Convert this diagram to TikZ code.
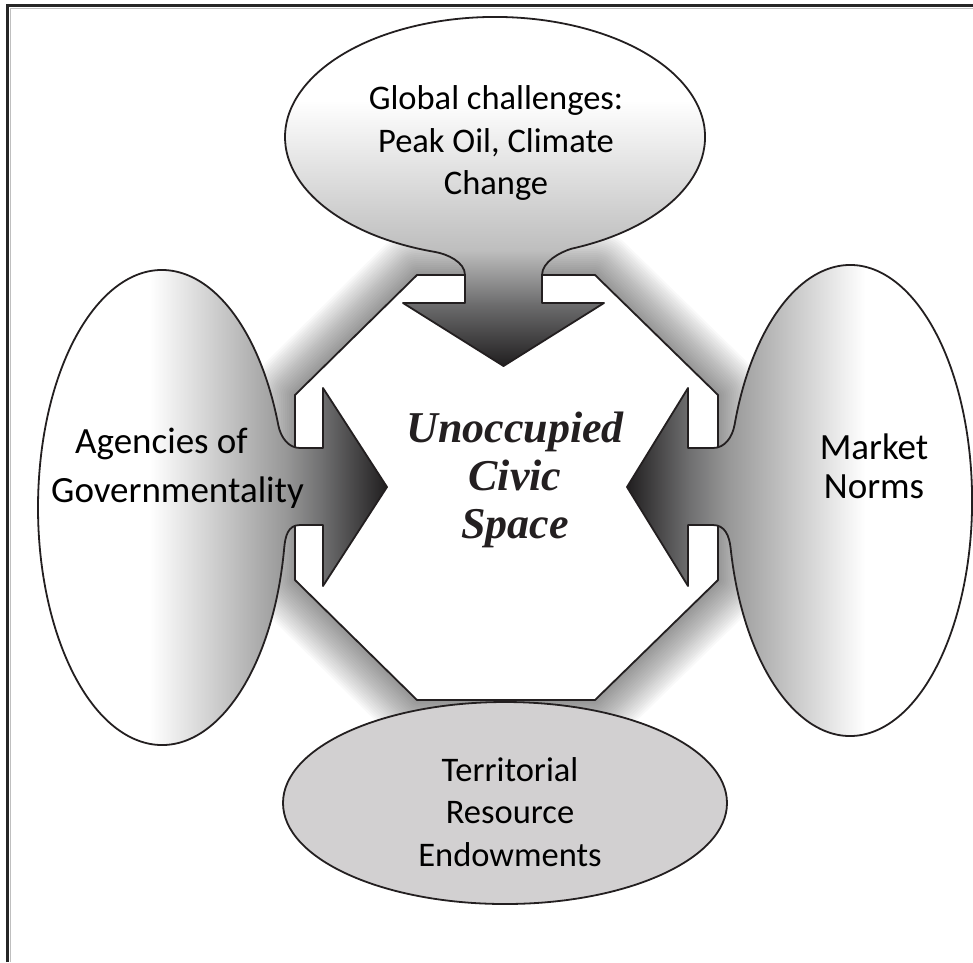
\documentclass[tikz,border=0pt]{standalone}
\usepackage{fontspec}
\setmainfont{Carlito}
\newfontfamily\serifbi{Liberation Serif}
\usetikzlibrary{shapes.geometric}
\definecolor{ink}{HTML}{231F20}
\definecolor{gA}{HTML}{BEBEBE}
\definecolor{gB}{HTML}{6E6E6F}
\definecolor{gC}{HTML}{1E1C1D}
\definecolor{hA}{HTML}{979797}
\definecolor{bottomgray}{HTML}{D2D0D1}
\begin{document}
\begin{tikzpicture}[x=1pt,y=-1pt,
  outl/.style={draw=ink, line width=1.8pt, line join=round},
  lbl/.style={align=center, text=black, inner sep=0pt, font=\fontsize{34.5}{42.5}\selectfont},
  lblbig/.style={align=center, text=black, inner sep=0pt},
  centerlbl/.style={align=center, text=ink, inner sep=0pt, font=\serifbi\bfseries\itshape\fontsize{44}{48}\selectfont}]
\useasboundingbox (0,0) rectangle (973,962);
% frame
\draw[line width=3pt, draw=black!85] (7,962) -- (7,5) -- (973,5);
\draw[line width=1pt, draw=black!25] (10,962) -- (10,8) -- (973,8);
% glow around octagon
\foreach \w in {88,84,...,4}{
  \draw[line width=\w, black, opacity=0.022, line join=round]
    (417,275) -- (595,275) -- (718,395) -- (718,580) -- (595,700) -- (417,700) -- (295,580) -- (295,395) -- cycle;
}
% octagon
\draw[outl, fill=white]
    (417,275) -- (595,275) -- (718,395) -- (718,580) -- (595,700) -- (417,700) -- (295,580) -- (295,395) -- cycle;
% top ellipse with arrow
\draw[outl, path picture={
    \fill[white] (270,0) rectangle (720,100.5);
    \shade[top color=white, bottom color=gA] (270,100) rectangle (720,250.5);
    \shade[top color=gA, bottom color=gB] (270,250) rectangle (720,303.5);
    \shade[top color=gB, bottom color=gC] (270,303) rectangle (720,368);
  }]
  (465,303) -- (403,303) -- (503.5,366) -- (604,303) -- (542,303) -- (542,275)
  .. controls (542,262) and (560,252) .. (572,248.6)
  arc[start angle=68.5, end angle=-253.4, x radius=210, y radius=120]
  .. controls (447,254) and (465,262) .. (465,275) -- cycle;
% left ellipse with arrow
\draw[outl, path picture={
    \fill[white] (30,250) rectangle (150.5,760);
    \shade[left color=white, right color=hA] (150,250) rectangle (286.5,760);
    \shade[left color=hA, right color=gB] (286,250) rectangle (323.5,760);
    \shade[left color=gB, right color=gC] (323,250) rectangle (389,760);
  }]
  (278.3,425.1) .. controls (280.6,436.8) and (288,448) .. (300,448) -- (323,448) -- (323,388)
  -- (387,487) -- (323,586) -- (323,525) -- (300,525)
  .. controls (288,525) and (285.3,536) .. (284.2,548)
  arc[start angle=9.82, end angle=339.7, x radius=124, y radius=237.5] -- cycle;
% right ellipse with arrow
\draw[outl, path picture={
    \fill[white] (864.5,250) rectangle (980,760);
    \shade[left color=hA, right color=white] (727.5,250) rectangle (865,760);
    \shade[left color=gB, right color=hA] (688,250) rectangle (728,760);
    \shade[left color=gC, right color=gB] (625,250) rectangle (688.5,760);
  }]
  (734.5,425) .. controls (732.4,436.8) and (725,448) .. (713,448) -- (688,448) -- (688,388)
  -- (627,487) -- (688,586) -- (688,525) -- (713,525)
  .. controls (725,525) and (729.3,536) .. (730.6,548)
  arc[start angle=168.36, end angle=-161.3, x radius=122, y radius=235.5] -- cycle;
% bottom ellipse
\node (terr) [ellipse, outl, fill=bottomgray, minimum width=444pt, minimum height=202pt, inner sep=0pt] at (505,803) {};
% texts
\node (glob) [lbl] at (496,143) {Global challenges:\\Peak Oil, Climate\\Change};
\node (agen) [lblbig, font=\fontsize{37}{49}\selectfont] at (177.5,468) {Agencies of\hspace*{32pt}\\Governmentality};
\node (mark) [lblbig, font=\fontsize{37}{39}\selectfont] at (874,466) {Market\\Norms};
\node (terrtext) [lbl] at (510,812) {Territorial\\Resource\\Endowments};
\node (ucs) [centerlbl] at (515,480) {Unoccupied\\Civic\\Space};
\end{tikzpicture}
\end{document}
